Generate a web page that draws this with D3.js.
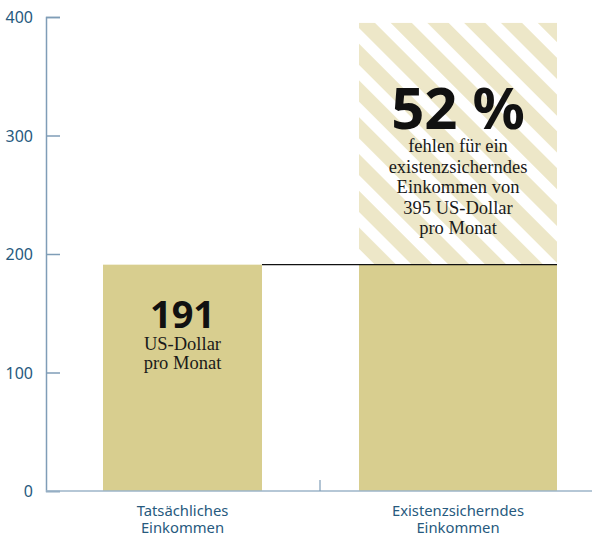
<!DOCTYPE html>
<html>
<head>
<meta charset="utf-8">
<script src="https://cdn.jsdelivr.net/npm/d3@7"></script>
<style>
  body { margin: 0; background: #fff; }
  svg { display: block; }
</style>
</head>
<body>
<svg id="chart" width="592" height="537"></svg>
<script>
// --- Data ---
const categories = [['Tatsächliches', 'Einkommen'], ['Existenzsicherndes', 'Einkommen']];
const actualIncome = 191;
const livingIncome = 395;
const gapPercent = 52;
const yTicks = [0, 100, 200, 300, 400];

// --- Colors ---
const barColor = '#d8ce8f';
const stripeColor = '#ede7c8';
const axisText = '#275a7e';
const axisLine = '#7f9db7';

const svg = d3.select('#chart');

// --- Scales ---
const y = d3.scaleLinear().domain([0, 400]).range([491, 17]);

// bar extents
const barX = [103, 359];
const barW = [159, 198];

// --- Stripe pattern ---
const pattern = svg.append('defs').append('pattern')
    .attr('id', 'stripes')
    .attr('patternUnits', 'userSpaceOnUse')
    .attr('width', 26)
    .attr('height', 26)
    .attr('patternTransform', 'rotate(-45)');
pattern.append('rect').attr('width', 26).attr('height', 26).attr('fill', '#fff');
pattern.append('rect').attr('width', 15).attr('height', 26).attr('fill', stripeColor);

// --- Bars ---
svg.append('rect')
    .attr('x', barX[0]).attr('width', barW[0])
    .attr('y', y(actualIncome)).attr('height', y(0) - y(actualIncome))
    .attr('fill', barColor);

svg.append('rect')
    .attr('x', barX[1]).attr('width', barW[1])
    .attr('y', y(livingIncome)).attr('height', y(actualIncome) - y(livingIncome))
    .attr('fill', 'url(#stripes)');

svg.append('rect')
    .attr('x', barX[1]).attr('width', barW[1])
    .attr('y', y(actualIncome)).attr('height', y(0) - y(actualIncome))
    .attr('fill', barColor);

// reference line at actual income
svg.append('line')
    .attr('x1', barX[0] + barW[0]).attr('x2', barX[1] + barW[1])
    .attr('y1', y(actualIncome)).attr('y2', y(actualIncome))
    .attr('stroke', '#111').attr('stroke-width', 1.2);

// --- Axes ---
const yAxis = svg.append('g')
    .attr('transform', 'translate(46,0)')
    .call(d3.axisRight(y).tickValues(yTicks).tickSize(14).tickFormat(''));
yAxis.select('.domain').attr('stroke', axisLine).attr('stroke-width', 1.5);
yAxis.selectAll('.tick line').attr('stroke', axisLine).attr('stroke-width', 1.5);

svg.selectAll('.ylab')
    .data(yTicks)
    .enter().append('text')
    .attr('x', 33)
    .attr('y', d => y(d) + 6)
    .attr('text-anchor', 'end')
    .attr('fill', axisText)
    .style('font-family', '"Noto Sans", sans-serif')
    .style('font-size', '16px')
    .text(d => d);

svg.append('line')
    .attr('x1', 46).attr('x2', 592)
    .attr('y1', y(0)).attr('y2', y(0))
    .attr('stroke', '#9db4c8').attr('stroke-width', 1.5);

svg.append('line')
    .attr('x1', 320).attr('x2', 320)
    .attr('y1', y(0) - 11).attr('y2', y(0))
    .attr('stroke', axisLine).attr('stroke-width', 1.2);

// category labels
const catCenters = [barX[0] + barW[0] / 2, barX[1] + barW[1] / 2];
categories.forEach((lines, i) => {
    const t = svg.append('text')
        .attr('text-anchor', 'middle')
        .attr('fill', axisText)
        .style('font-family', '"Noto Sans", sans-serif')
        .style('font-size', '14.8px');
    lines.forEach((l, j) => {
        t.append('tspan').attr('x', catCenters[i]).attr('y', 516 + j * 17).text(l);
    });
});

// --- Annotations ---
function bigNumber(cx, cy, size, str) {
    svg.append('text')
        .attr('x', cx).attr('y', cy)
        .attr('text-anchor', 'middle')
        .attr('fill', '#111')
        .style('font-family', '"Noto Sans", sans-serif')
        .style('font-weight', 'bold')
        .style('font-size', size + 'px')
        .text(str);
}
function serifLines(cx, y0, lh, lines) {
    const t = svg.append('text')
        .attr('text-anchor', 'middle')
        .attr('fill', '#1a1a1a')
        .style('font-family', '"Liberation Serif", serif')
        .style('font-size', '18.5px');
    lines.forEach((l, j) => {
        t.append('tspan').attr('x', cx).attr('y', y0 + j * lh).text(l);
    });
}

bigNumber(catCenters[0], 328, 38, actualIncome);
serifLines(catCenters[0], 350, 19, ['US-Dollar', 'pro Monat']);

bigNumber(catCenters[1], 129, 58, gapPercent + ' %');
serifLines(catCenters[1], 152, 20.5, ['fehlen für ein', 'existenzsicherndes', 'Einkommen von', livingIncome + ' US-Dollar', 'pro Monat']);
</script>
</body>
</html>
